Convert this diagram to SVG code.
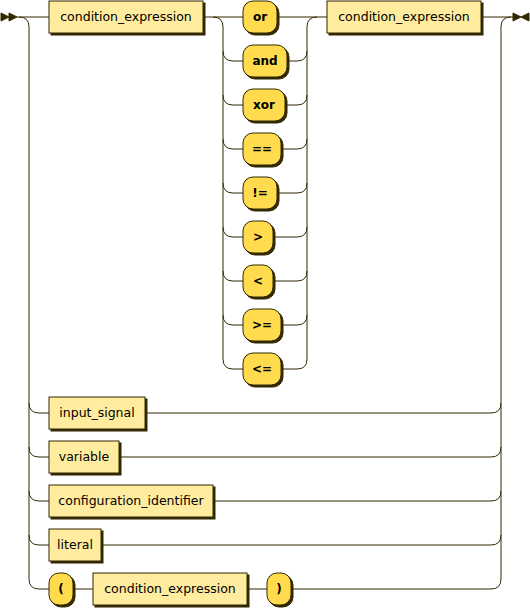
<svg xmlns="http://www.w3.org/2000/svg" width="530" height="608" viewBox="0 0 530 608">
  <style>
    .line { fill: none; stroke: #332900; stroke-width: 1; }
    .shadow { fill: #332900; stroke: #332900; stroke-width: 1; }
    .arrow { fill: #332900; stroke: #332900; stroke-width: 1; }
    rect.nonterminal { fill: #FFEC9E; stroke: #332900; stroke-width: 1; }
    rect.terminal { fill: #FFDB4D; stroke: #332900; stroke-width: 1; }
    text.nonterminal { font-family: "DejaVu Sans", Verdana, sans-serif; font-size: 12.5px; fill: #000000; text-anchor: middle; }
    text.terminal { font-family: "DejaVu Sans", Verdana, sans-serif; font-size: 12px; font-weight: bold; fill: #000000; text-anchor: middle; }
  </style>
  <rect width="530" height="608" fill="#FFFFFF"/>

  <!-- start / end markers -->
  <g id="start">
    <polygon class="arrow" points="9 17 1 13 1 21"/>
    <polygon class="arrow" points="17 17 9 13 9 21"/>
  </g>
  <g id="end">
    <polygon class="arrow" points="521 17 513 13 513 21"/>
    <polygon class="arrow" points="521 17 529 13 529 21"/>
  </g>

  <!-- connectors -->
  <g id="connectors" class="line">
    <!-- main track -->
    <path d="M17 17 H49"/>
    <path d="M203 17 H243"/>
    <path d="M277 17 H327"/>
    <path d="M481 17 H513"/>
    <!-- outer choice, left side -->
    <path d="M19 17 q10 0 10 10 V579 q0 10 10 10 h10"/>
    <path d="M29 403 q0 10 10 10 h10"/>
    <path d="M29 447 q0 10 10 10 h10"/>
    <path d="M29 491 q0 10 10 10 h10"/>
    <path d="M29 535 q0 10 10 10 h10"/>
    <!-- outer choice, right side -->
    <path d="M291 589 H491 q10 0 10 -10 V27 q0 -10 10 -10"/>
    <path d="M145 413 H491 q10 0 10 -10"/>
    <path d="M119 457 H491 q10 0 10 -10"/>
    <path d="M213 501 H491 q10 0 10 -10"/>
    <path d="M101 545 H491 q10 0 10 -10"/>
    <!-- parenthesised sequence -->
    <path d="M73 589 H93"/>
    <path d="M247 589 H267"/>
    <!-- operator choice, left side -->
    <path d="M213 17 q10 0 10 10 V359 q0 10 10 10 h10"/>
    <path d="M223 51 q0 10 10 10 h10"/>
    <path d="M223 95 q0 10 10 10 h10"/>
    <path d="M223 139 q0 10 10 10 h10"/>
    <path d="M223 183 q0 10 10 10 h10"/>
    <path d="M223 227 q0 10 10 10 h10"/>
    <path d="M223 271 q0 10 10 10 h10"/>
    <path d="M223 315 q0 10 10 10 h10"/>
    <!-- operator choice, right side -->
    <path d="M281 369 H297 q10 0 10 -10 V27 q0 -10 10 -10"/>
    <path d="M287 61 H297 q10 0 10 -10"/>
    <path d="M285 105 H297 q10 0 10 -10"/>
    <path d="M281 149 H297 q10 0 10 -10"/>
    <path d="M277 193 H297 q10 0 10 -10"/>
    <path d="M273 237 H297 q10 0 10 -10"/>
    <path d="M273 281 H297 q10 0 10 -10"/>
    <path d="M281 325 H297 q10 0 10 -10"/>
  </g>

  <!-- nodes -->
  <g id="condition_expression_1">
    <rect class="shadow" x="51" y="3" width="154" height="32"/>
    <rect class="nonterminal" x="49" y="1" width="154" height="32"/>
    <text class="nonterminal" x="126" y="21">condition_expression</text>
  </g>
  <g id="op_or">
    <rect class="shadow" x="245" y="3" width="34" height="32" rx="10"/>
    <rect class="terminal" x="243" y="1" width="34" height="32" rx="10"/>
    <text class="terminal" x="260" y="21">or</text>
  </g>
  <g id="op_and">
    <rect class="shadow" x="245" y="47" width="44" height="32" rx="10"/>
    <rect class="terminal" x="243" y="45" width="44" height="32" rx="10"/>
    <text class="terminal" x="265" y="65">and</text>
  </g>
  <g id="op_xor">
    <rect class="shadow" x="245" y="91" width="42" height="32" rx="10"/>
    <rect class="terminal" x="243" y="89" width="42" height="32" rx="10"/>
    <text class="terminal" x="264" y="109">xor</text>
  </g>
  <g id="op_eq">
    <rect class="shadow" x="245" y="135" width="38" height="32" rx="10"/>
    <rect class="terminal" x="243" y="133" width="38" height="32" rx="10"/>
    <text class="terminal" x="262" y="153">==</text>
  </g>
  <g id="op_ne">
    <rect class="shadow" x="245" y="179" width="34" height="32" rx="10"/>
    <rect class="terminal" x="243" y="177" width="34" height="32" rx="10"/>
    <text class="terminal" x="260" y="197">!=</text>
  </g>
  <g id="op_gt">
    <rect class="shadow" x="245" y="223" width="30" height="32" rx="10"/>
    <rect class="terminal" x="243" y="221" width="30" height="32" rx="10"/>
    <text class="terminal" x="258" y="241">&gt;</text>
  </g>
  <g id="op_lt">
    <rect class="shadow" x="245" y="267" width="30" height="32" rx="10"/>
    <rect class="terminal" x="243" y="265" width="30" height="32" rx="10"/>
    <text class="terminal" x="258" y="285">&lt;</text>
  </g>
  <g id="op_ge">
    <rect class="shadow" x="245" y="311" width="38" height="32" rx="10"/>
    <rect class="terminal" x="243" y="309" width="38" height="32" rx="10"/>
    <text class="terminal" x="262" y="329">&gt;=</text>
  </g>
  <g id="op_le">
    <rect class="shadow" x="245" y="355" width="38" height="32" rx="10"/>
    <rect class="terminal" x="243" y="353" width="38" height="32" rx="10"/>
    <text class="terminal" x="262" y="373">&lt;=</text>
  </g>
  <g id="condition_expression_2">
    <rect class="shadow" x="329" y="3" width="154" height="32"/>
    <rect class="nonterminal" x="327" y="1" width="154" height="32"/>
    <text class="nonterminal" x="404" y="21">condition_expression</text>
  </g>
  <g id="input_signal">
    <rect class="shadow" x="51" y="399" width="96" height="32"/>
    <rect class="nonterminal" x="49" y="397" width="96" height="32"/>
    <text class="nonterminal" x="97" y="417">input_signal</text>
  </g>
  <g id="variable">
    <rect class="shadow" x="51" y="443" width="70" height="32"/>
    <rect class="nonterminal" x="49" y="441" width="70" height="32"/>
    <text class="nonterminal" x="84" y="461">variable</text>
  </g>
  <g id="configuration_identifier">
    <rect class="shadow" x="51" y="487" width="164" height="32"/>
    <rect class="nonterminal" x="49" y="485" width="164" height="32"/>
    <text class="nonterminal" x="131" y="505">configuration_identifier</text>
  </g>
  <g id="literal">
    <rect class="shadow" x="51" y="531" width="52" height="32"/>
    <rect class="nonterminal" x="49" y="529" width="52" height="32"/>
    <text class="nonterminal" x="75" y="549">literal</text>
  </g>
  <g id="paren_open">
    <rect class="shadow" x="51" y="575" width="24" height="32" rx="10"/>
    <rect class="terminal" x="49" y="573" width="24" height="32" rx="10"/>
    <text class="terminal" x="61" y="593">(</text>
  </g>
  <g id="condition_expression_3">
    <rect class="shadow" x="95" y="575" width="154" height="32"/>
    <rect class="nonterminal" x="93" y="573" width="154" height="32"/>
    <text class="nonterminal" x="170" y="593">condition_expression</text>
  </g>
  <g id="paren_close">
    <rect class="shadow" x="269" y="575" width="24" height="32" rx="10"/>
    <rect class="terminal" x="267" y="573" width="24" height="32" rx="10"/>
    <text class="terminal" x="279" y="593">)</text>
  </g>
</svg>
